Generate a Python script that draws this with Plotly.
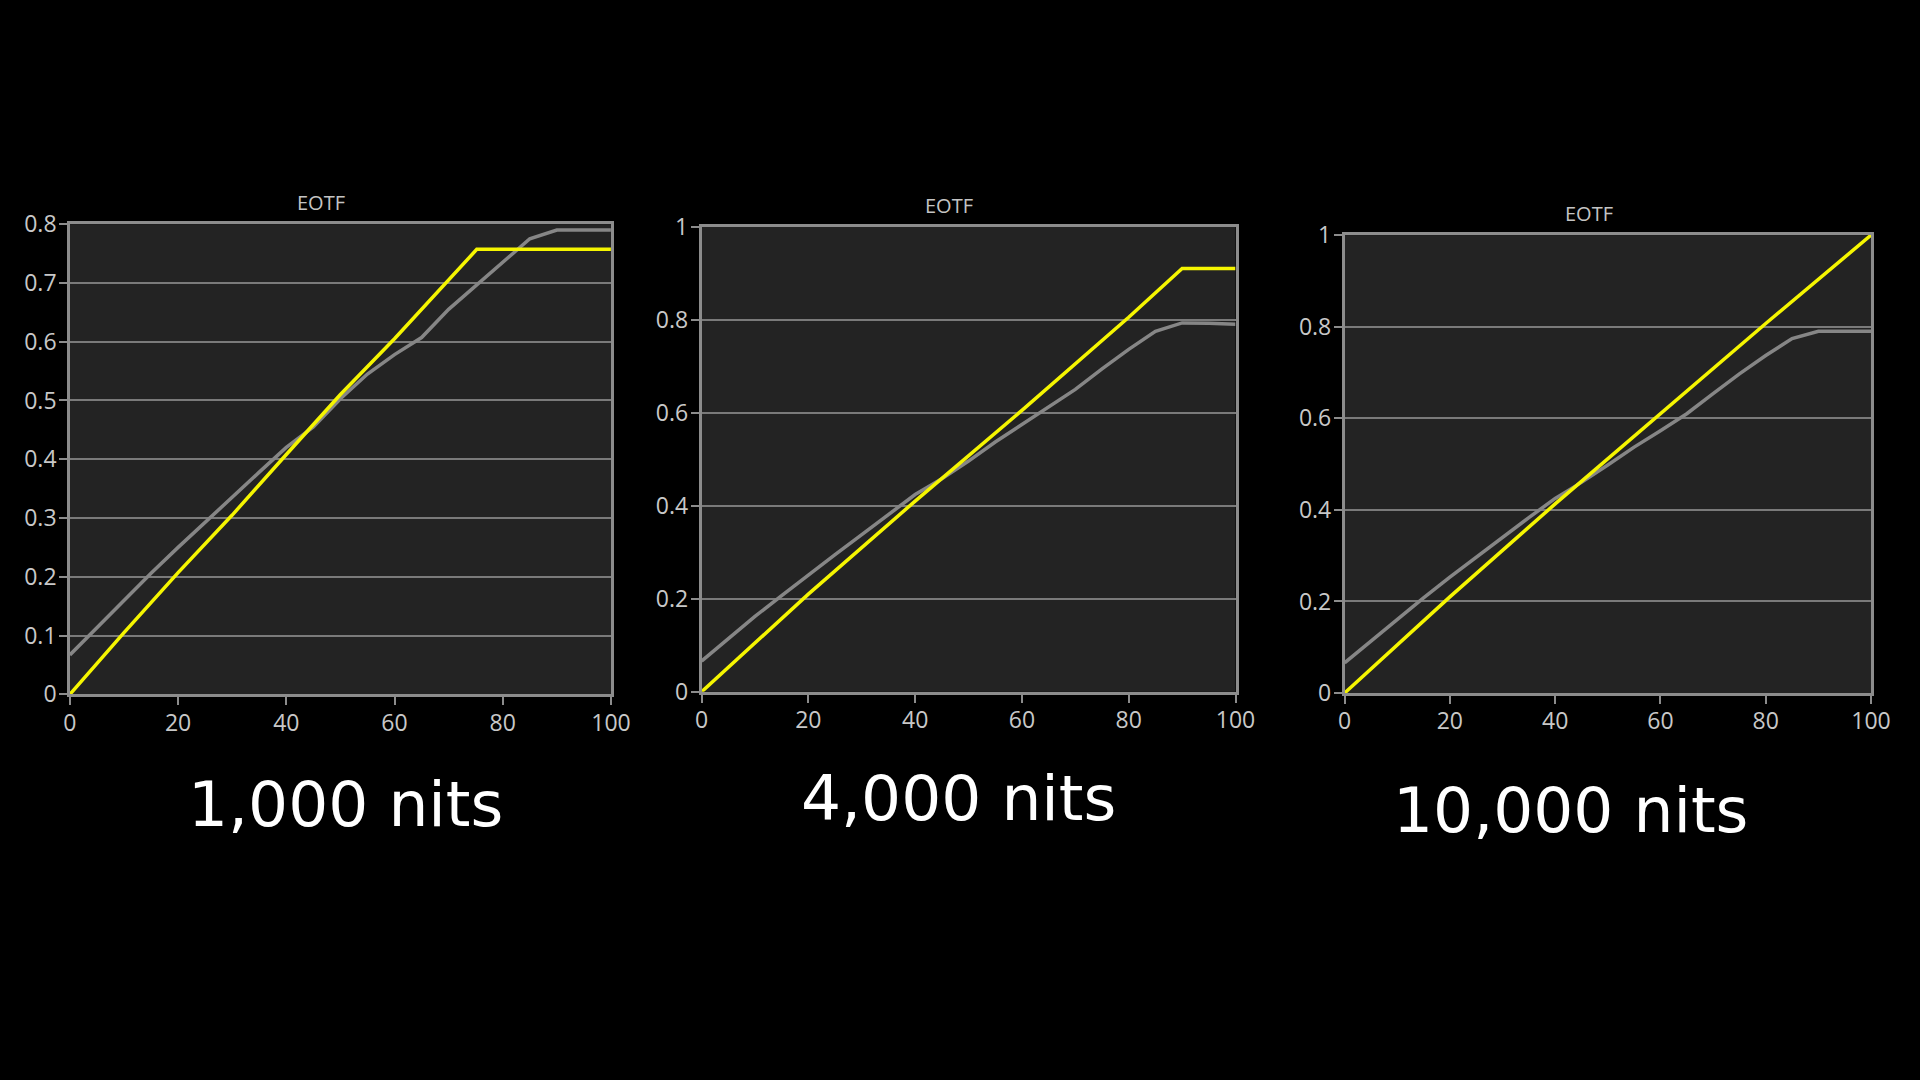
import plotly.graph_objects as go
from plotly.subplots import make_subplots

# input signal (% of code range)
signal_pct = [0, 5, 10, 15, 20, 25, 30, 35, 40, 45, 50,
              55, 60, 65, 70, 75, 80, 85, 90, 95, 100]

# 1,000 nits panel
target_1000_x = [0, 10, 20, 30, 40, 50, 60, 70, 75.2, 100]
target_1000_y = [0, 0.105, 0.207, 0.305, 0.408, 0.51, 0.605, 0.705, 0.757, 0.757]
measured_1000 = [0.067, 0.114, 0.160, 0.206, 0.250, 0.292, 0.335, 0.378, 0.420, 0.455, 0.503,
                 0.545, 0.578, 0.607, 0.655, 0.695, 0.735, 0.775, 0.790, 0.790, 0.790]

# 4,000 nits panel
target_4000_x = [0, 20, 40, 60, 80, 90, 100]
target_4000_y = [0, 0.21, 0.41, 0.605, 0.805, 0.91, 0.91]
measured_4000 = [0.066, 0.114, 0.162, 0.207, 0.252, 0.295, 0.338, 0.381, 0.424, 0.458, 0.496,
                 0.537, 0.575, 0.612, 0.650, 0.694, 0.736, 0.775, 0.793, 0.792, 0.790]

# 10,000 nits panel
target_10000_x = [0, 20, 40, 60, 80, 100]
target_10000_y = [0, 0.21, 0.413, 0.61, 0.807, 1.0]
measured_10000 = [0.066, 0.114, 0.162, 0.208, 0.253, 0.297, 0.340, 0.383, 0.425, 0.460, 0.498,
                  0.537, 0.573, 0.610, 0.654, 0.697, 0.737, 0.774, 0.790, 0.790, 0.790]

panel_labels = ["1,000 nits", "4,000 nits", "10,000 nits"]
y_max = [0.8, 1, 1]
y_step = [0.1, 0.2, 0.2]

panels = [
    (target_1000_x, target_1000_y, measured_1000),
    (target_4000_x, target_4000_y, measured_4000),
    (target_10000_x, target_10000_y, measured_10000),
]

# layout of each panel (paper fractions)
x_domains = [[0.0364, 0.3182], [0.3654, 0.6435], [0.7003, 0.9745]]
y_domains = [[0.3571, 0.7925], [0.3594, 0.7902], [0.3583, 0.7823]]
title_x = [0.1671, 0.4943, 0.8278]
label_pos = [(0.1798, 0.2551), (0.4994, 0.2608), (0.8182, 0.2494)]

tick_font = dict(family="Open Sans", size=23, color="#c8c8c8")

fig = make_subplots(rows=1, cols=3)

for i, (tx, ty, meas) in enumerate(panels):
    fig.add_trace(
        go.Scatter(x=signal_pct, y=meas, mode="lines",
                   line=dict(color="#868686", width=3.5), showlegend=False),
        row=1, col=i + 1,
    )
    fig.add_trace(
        go.Scatter(x=tx, y=ty, mode="lines",
                   line=dict(color="#f5f500", width=3.5), showlegend=False),
        row=1, col=i + 1,
    )
    fig.update_xaxes(
        domain=x_domains[i], range=[0, 100], dtick=20, showgrid=False, zeroline=False,
        showline=True, mirror=True, linecolor="#8c8c8c", linewidth=2.5, automargin=False,
        ticks="outside", ticklen=8, tickcolor="#8c8c8c", tickwidth=1.5,
        ticklabelstandoff=-2, tickfont=tick_font,
        row=1, col=i + 1,
    )
    fig.update_yaxes(
        domain=y_domains[i], range=[0, y_max[i]], dtick=y_step[i],
        showgrid=True, gridcolor="#7a7a7a", gridwidth=1.5, zeroline=False,
        showline=True, mirror=True, linecolor="#8c8c8c", linewidth=2.5, automargin=False,
        ticks="outside", ticklen=8, tickcolor="#8c8c8c", tickwidth=1.5,
        ticklabelstandoff=-2, tickfont=tick_font,
        row=1, col=i + 1,
    )
    fig.add_annotation(
        text="EOTF", xref="paper", yref="paper", x=title_x[i], y=y_domains[i][1],
        yshift=6, xanchor="center", yanchor="bottom", showarrow=False,
        font=dict(family="Open Sans", size=20, color="#c4c4c4"),
    )
    fig.add_annotation(
        text=panel_labels[i], xref="paper", yref="paper",
        x=label_pos[i][0], y=label_pos[i][1], xanchor="center", yanchor="middle",
        showarrow=False, font=dict(family="DejaVu Sans", size=63, color="#ffffff"),
    )

fig.update_layout(
    width=1920,
    height=1080,
    margin=dict(l=0, r=0, t=0, b=0, autoexpand=False),
    paper_bgcolor="#000000",
    plot_bgcolor="#232323",
    showlegend=False,
)

# page has a default body margin; remove it so the figure fills the window
fig.write_html(
    "out.html",
    config={"displayModeBar": False},
    post_script="document.body.style.margin='0';"
                "document.body.style.background='#000';"
                "document.body.style.overflow='hidden';",
)
